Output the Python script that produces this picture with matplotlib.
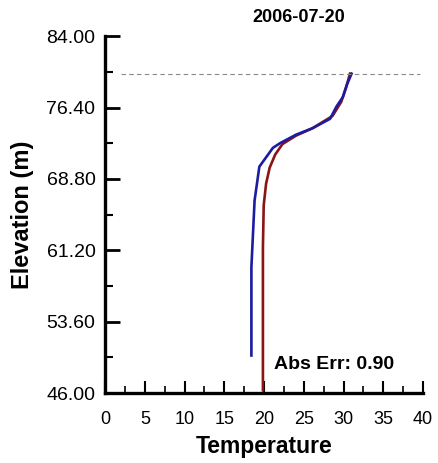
import numpy as np
import matplotlib.pyplot as plt
from matplotlib.ticker import MultipleLocator, FixedLocator

plt.rcParams['font.family'] = ['Liberation Sans', 'DejaVu Sans']

# simulated (blue) and observed (red) temperature profiles
blue_temp = [31.0, 30.4, 29.9, 29.1, 28.3, 26.1, 24.0, 22.0, 21.1, 19.4, 18.8, 18.4, 18.4]
blue_elev = [80.0, 78.8, 77.5, 76.5, 75.2, 74.2, 73.5, 72.6, 72.1, 70.1, 66.5, 59.4, 50.0]
red_temp = [30.8, 30.3, 29.7, 28.6, 26.1, 24.0, 22.3, 21.4, 20.7, 20.25, 19.95, 19.85, 19.85]
red_elev = [80.0, 78.5, 77.0, 75.5, 74.2, 73.4, 72.5, 71.4, 70.0, 68.3, 66.0, 61.5, 46.3]
water_surface = 80.0
title = "2006-07-20"
abs_err = 0.90
yticks = [46.0, 53.6, 61.2, 68.8, 76.4, 84.0]

fig = plt.figure(figsize=(4.38, 4.63), dpi=100)
ax = fig.add_axes([0.240, 0.151, 0.726, 0.771])

ax.plot(red_temp, red_elev, color='#8b1414', lw=1.9)
ax.plot(blue_temp, blue_elev, color='#1c1ca0', lw=1.9)
ax.axhline(water_surface, xmin=0.05, xmax=0.99, color='#888888', lw=0.8,
           ls=(0, (4, 3)))

ax.set_xlim(0, 40)
ax.set_ylim(46, 84)
ax.xaxis.set_major_locator(MultipleLocator(5))
ax.xaxis.set_minor_locator(MultipleLocator(2.5))
ax.yaxis.set_major_locator(FixedLocator(yticks))
ax.yaxis.set_minor_locator(FixedLocator([49.8, 57.4, 65.0, 72.6, 80.2]))
ax.set_yticklabels([f"{v:.2f}" for v in yticks])

for s in ['top', 'right']:
    ax.spines[s].set_visible(False)
for s in ['left', 'bottom']:
    ax.spines[s].set_linewidth(2.4)

ax.tick_params(axis='y', which='major', direction='in', length=11, width=2,
               labelsize=14, pad=7)
ax.tick_params(axis='y', which='minor', direction='in', length=6, width=1.5)
ax.tick_params(axis='x', which='major', direction='in', length=9, width=1.5,
               labelsize=13, pad=13)
ax.tick_params(axis='x', which='minor', direction='in', length=5, width=1.2)

ax.set_xlabel("Temperature", fontsize=16.5, fontweight='bold', labelpad=5)
ax.set_ylabel("Elevation (m)", fontsize=17, fontweight='bold', labelpad=9)
fig.text(0.683, 0.952, title, fontsize=13, fontweight='bold', ha='center')
ax.text(21.3, 49.0, f"Abs Err: {abs_err:.2f}", fontsize=14, fontweight='bold',
        va='center')

fig.savefig("out.png", dpi=100)
